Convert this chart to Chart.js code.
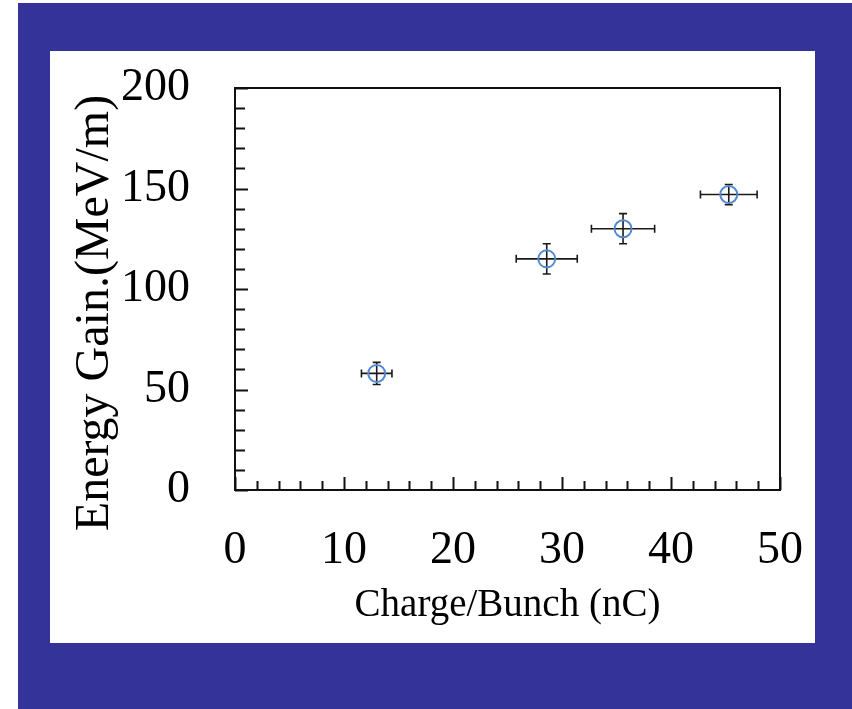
<!DOCTYPE html>
<html>
<head>
<meta charset="utf-8">
<script src="https://cdn.jsdelivr.net/npm/chart.js@4/dist/chart.umd.min.js"></script>
<style>
html,body{margin:0;padding:0;background:#fff;}
#wrap{width:852px;height:709px;position:relative;}
</style>
</head>
<body>
<div id="wrap"><canvas id="c" width="852" height="709"></canvas></div>
<script>
const chargeValues = [13, 28.6, 35.6, 45.3];
const gainValues = [58, 115, 130, 147];
const chargeErrors = [1.4, 2.8, 2.9, 2.6];
const gainErrors = [5.5, 7.5, 7.5, 5];
const xTickValues = [0, 10, 20, 30, 40, 50];
const yTickValues = [0, 50, 100, 150, 200];
const xTitle = 'Charge/Bunch (nC)';
const yTitle = 'Energy Gain.(MeV/m)';

const FONT = "'Liberation Serif', 'Times New Roman', serif";

const framePlugin = {
  id: 'frame',
  beforeDraw(chart) {
    const ctx = chart.ctx;
    ctx.save();
    ctx.fillStyle = '#ffffff';
    ctx.fillRect(0, 0, chart.width, chart.height);
    ctx.fillStyle = '#333399';
    ctx.fillRect(18, 3, chart.width - 18, chart.height - 3);
    ctx.fillStyle = '#ffffff';
    ctx.fillRect(50, 51, 765, 592);
    ctx.restore();
  },
  beforeDatasetsDraw(chart) {
    const ctx = chart.ctx;
    const xs = chart.scales.x, ys = chart.scales.y;
    const a = chart.chartArea;
    ctx.save();
    // axis box
    ctx.strokeStyle = '#111';
    ctx.lineWidth = 2;
    ctx.strokeRect(a.left, a.top, a.right - a.left, a.bottom - a.top);
    // inward ticks
    ctx.lineWidth = 2;
    ctx.beginPath();
    for (let v = xs.min; v <= xs.max; v += 2) {
      const px = Math.round(xs.getPixelForValue(v)) + 0.5;
      const len = (v % 10 === 0) ? 13 : 9;
      ctx.moveTo(px, a.bottom);
      ctx.lineTo(px, a.bottom - len);
    }
    for (let v = ys.min; v <= ys.max; v += 10) {
      const py = Math.round(ys.getPixelForValue(v)) + 0.5;
      const len = (v % 50 === 0) ? 13 : 10;
      ctx.moveTo(a.left, py);
      ctx.lineTo(a.left + len, py);
    }
    ctx.stroke();
    // error bars
    ctx.strokeStyle = '#1a1a1a';
    ctx.lineWidth = 1.6;
    const cap = 4;
    for (let i = 0; i < chargeValues.length; i++) {
      const cx = xs.getPixelForValue(chargeValues[i]);
      const cy = ys.getPixelForValue(gainValues[i]);
      const x0 = xs.getPixelForValue(chargeValues[i] - chargeErrors[i]);
      const x1 = xs.getPixelForValue(chargeValues[i] + chargeErrors[i]);
      const y0 = ys.getPixelForValue(gainValues[i] - gainErrors[i]);
      const y1 = ys.getPixelForValue(gainValues[i] + gainErrors[i]);
      ctx.beginPath();
      ctx.moveTo(x0, cy); ctx.lineTo(x1, cy);
      ctx.moveTo(x0, cy - cap); ctx.lineTo(x0, cy + cap);
      ctx.moveTo(x1, cy - cap); ctx.lineTo(x1, cy + cap);
      ctx.moveTo(cx, y0); ctx.lineTo(cx, y1);
      ctx.moveTo(cx - cap, y0); ctx.lineTo(cx + cap, y0);
      ctx.moveTo(cx - cap, y1); ctx.lineTo(cx + cap, y1);
      ctx.stroke();
    }
    ctx.restore();
  }
};

const points = chargeValues.map((x, i) => ({ x: x, y: gainValues[i] }));

new Chart(document.getElementById('c'), {
  type: 'scatter',
  data: {
    datasets: [{
      data: points,
      pointStyle: 'circle',
      pointRadius: 8.5,
      pointHoverRadius: 8.5,
      borderColor: '#5289d2',
      backgroundColor: 'rgba(0,0,0,0)',
      pointBorderWidth: 2
    }]
  },
  options: {
    responsive: false,
    animation: false,
    events: [],
    layout: { padding: { top: 88, right: 72, left: 0, bottom: 0 } },
    plugins: { legend: { display: false }, tooltip: { enabled: false } },
    scales: {
      x: {
        type: 'linear',
        min: 0, max: 50,
        afterFit(scale) { scale.height = 219; },
        afterBuildTicks(scale) { scale.ticks = xTickValues.map(v => ({ value: v })); },
        grid: { display: false, drawTicks: false },
        border: { display: false },
        ticks: {
          color: '#000',
          padding: 33,
          maxRotation: 0,
          font: { family: FONT, size: 46 }
        },
        title: {
          display: true,
          text: xTitle,
          color: '#000',
          font: { family: FONT, size: 39, lineHeight: 1 },
          padding: { top: 0, bottom: 84 }
        }
      },
      y: {
        type: 'linear',
        min: 0, max: 200,
        afterFit(scale) { scale.width = 235; },
        afterBuildTicks(scale) { scale.ticks = yTickValues.map(v => ({ value: v })); },
        grid: { display: false, drawTicks: false },
        border: { display: false },
        ticks: {
          color: '#000',
          padding: 45,
          font: { family: FONT, size: 46 }
        },
        title: {
          display: true,
          text: yTitle + '\u2002\u2002',
          color: '#000',
          font: { family: FONT, size: 48, lineHeight: 1 },
          padding: { top: 71, bottom: 0 }
        }
      }
    }
  },
  plugins: [framePlugin]
});
</script>
</body>
</html>
